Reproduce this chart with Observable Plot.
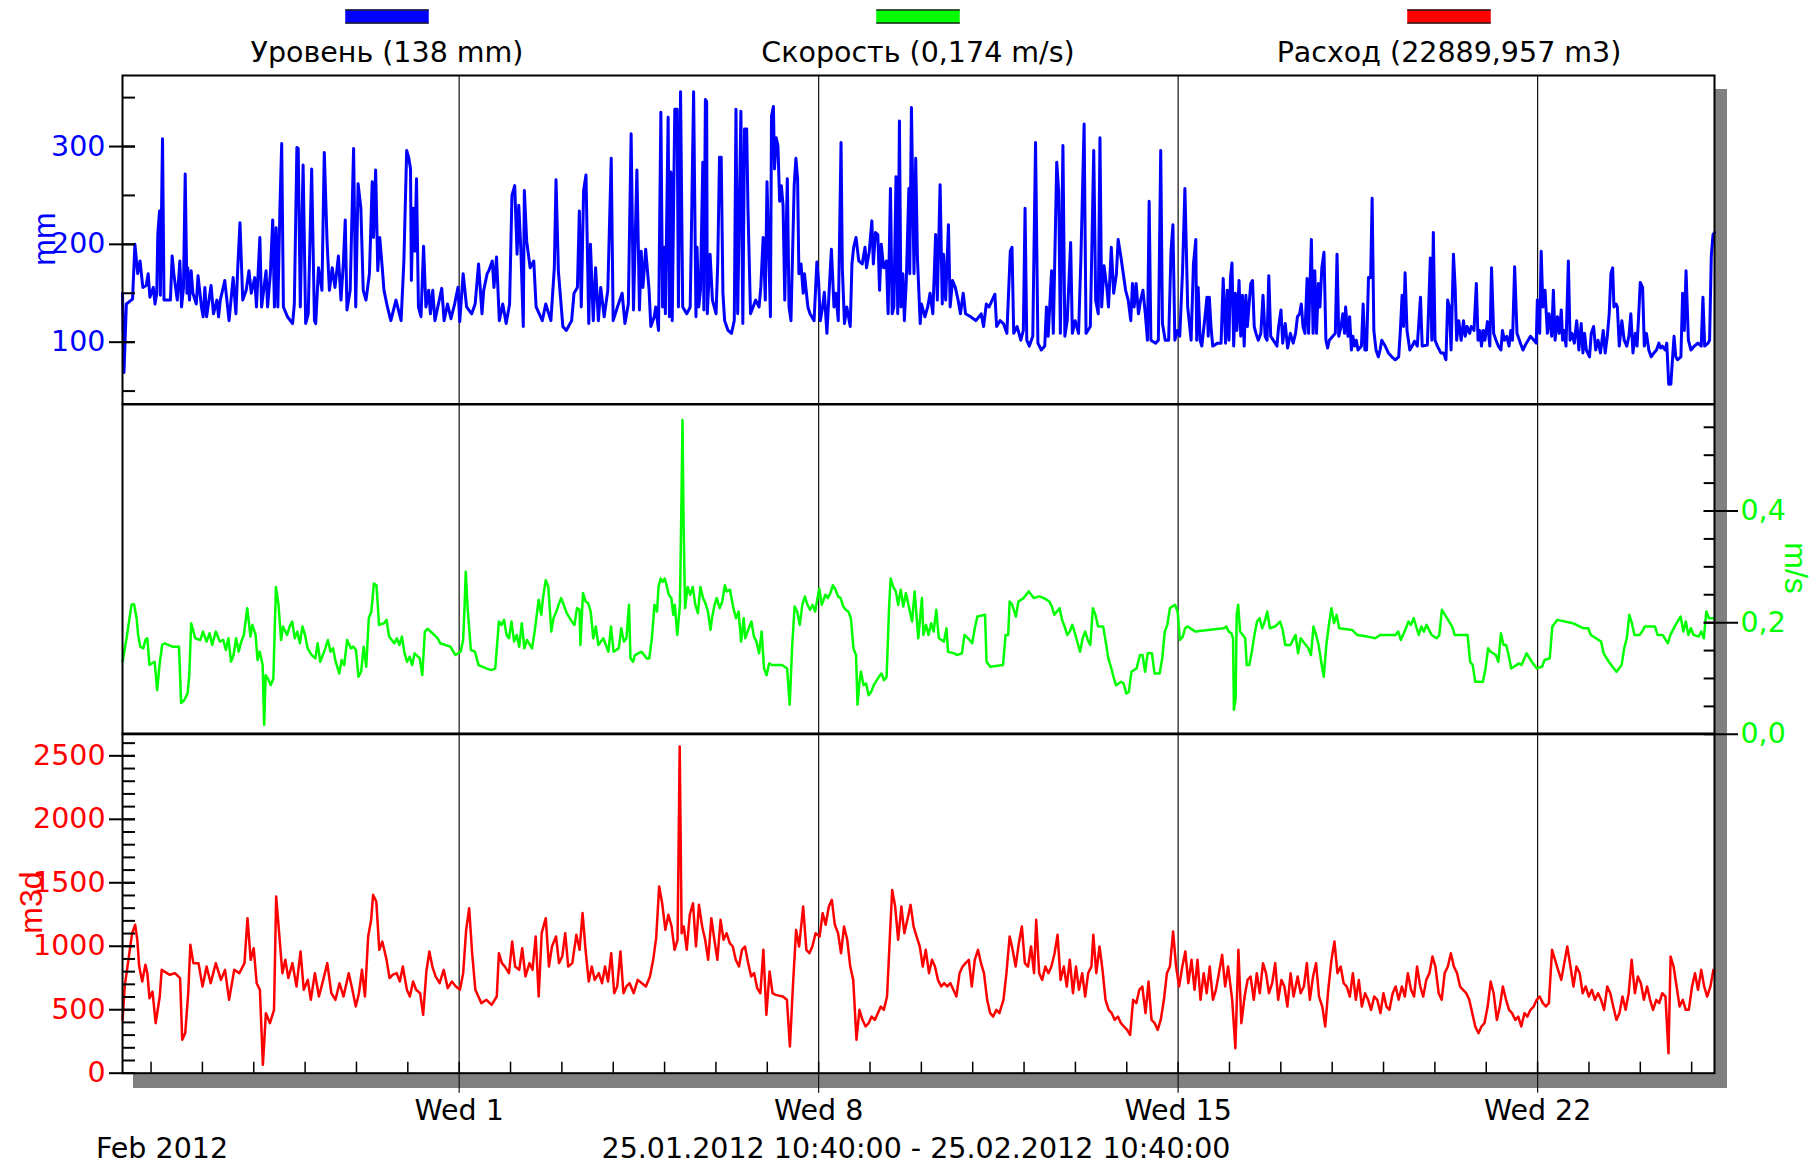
<!DOCTYPE html>
<html><head><meta charset="utf-8">
<script src="https://cdn.jsdelivr.net/npm/d3@7"></script>
<script src="https://cdn.jsdelivr.net/npm/@observablehq/plot@0.6"></script>
<style>
html,body{margin:0;padding:0;background:#fff;}
#chart{position:relative;width:1818px;height:1167px;overflow:hidden;background:#fff;}
#chart svg{position:absolute;left:0;}
</style></head><body><div id="chart"></div><script>
// ---------- data (hours since 25.01.2012 10:40, value) ----------
const legendNames = ["Уровень (138 mm)", "Скорость (0,174 m/s)", "Расход (22889,957 m3)"];
const seriesColors = ["#0000ff", "#00ff00", "#ff0000"];
const axisTitles = ["mm", "m/s", "m3d"];
const wedDays = [1, 8, 15, 22];
const wedLabels = ["Wed 1", "Wed 8", "Wed 15", "Wed 22"];
const levelTicksMajor = [100, 200, 300];
const speedTicksMajor = [0, 0.2, 0.4];
const flowTicksMajor = [0, 500, 1000, 1500, 2000, 2500];
const captionLeft = "Feb 2012";
const captionRange = "25.01.2012 10:40:00 - 25.02.2012 10:40:00";

const levelSeries = [[0,150],[0.7,69],[1.8,139],[4.7,144],[5.8,200],[7.1,170],[8.2,183],[9.5,156],[11.1,158],[12,170],[12.8,146],[14.4,156],[15.2,139],[16,150],[16.5,210],[17.3,234],[17.7,148],[18.7,308],[19.4,143],[22.4,143],[23.2,188],[24,170],[24.8,156],[25.6,143],[26.8,183],[27.6,136],[28.5,156],[29.3,272],[30.1,150],[30.5,176],[31.3,143],[32.1,173],[32.9,150],[34.5,139],[35.3,168],[36.9,136],[37.7,126],[38.5,156],[39.3,126],[41.4,158],[42.5,129],[44.1,143],[44.9,126],[45.7,143],[47.8,163],[49.8,122],[51.7,166],[53,129],[53.8,173],[54.9,222],[56.2,143],[57.8,153],[59.1,173],[60.2,150],[61.8,166],[62.6,136],[64.2,207],[65,136],[67.1,173],[67.8,136],[69.1,170],[70.2,225],[71,136],[71.8,217],[72.6,136],[73.6,240],[74.4,303],[75.2,136],[77.1,126],[79.5,119],[80.3,139],[81.5,299],[82.1,298],[83.1,136],[84.4,281],[85.6,119],[86.8,129],[88.4,277],[89.7,122],[90.3,119],[91.6,176],[93.2,153],[94.3,294],[95.6,203],[96.7,153],[98,176],[99.3,156],[100.9,188],[102.1,143],[103.2,180],[104.1,225],[104.9,133],[106.4,153],[108,298],[109,136],[110.1,262],[111.4,237],[112.5,153],[113.8,143],[115.4,170],[116.7,264],[117.3,207],[118.3,276],[119.3,173],[120.2,207],[121.4,176],[122.2,153],[123.8,136],[125.4,122],[127.8,143],[130.2,122],[131.5,183],[132.8,296],[133.8,288],[134.6,277],[135,163],[135.8,237],[136.6,193],[137.4,267],[138.3,136],[139.5,126],[140.7,198],[141.8,136],[143.1,153],[143.9,129],[145,153],[146,122],[149.2,155],[150.3,122],[151.9,139],[153.5,124],[155.2,139],[156.8,156],[157.6,121],[159.2,170],[160.8,136],[163.2,129],[164.8,139],[166.4,180],[168,129],[168.8,153],[170.4,170],[171.2,173],[172.8,183],[173.6,156],[174.8,187],[176.1,122],[177.7,139],[179.3,119],[180.9,139],[182,250],[183.3,260],[184.4,190],[185.2,240],[186.2,193],[187.3,116],[187.8,255],[188.9,203],[190.5,176],[192.2,183],[193.3,136],[196.2,122],[197.8,139],[200.2,122],[201.8,176],[202.6,266],[203.7,173],[205.8,116],[207.4,112],[209.9,122],[211,150],[212.6,156],[213.5,234],[214.4,136],[215.5,255],[216.6,271],[217.9,119],[218.7,200],[220,122],[221.1,176],[222.4,122],[223.5,156],[225.1,126],[226.8,153],[228.4,288],[229.3,122],[231.3,136],[233.5,150],[234.8,119],[236.4,139],[237.7,313],[238.8,133],[240.4,276],[241.6,133],[242.4,193],[243.2,156],[244.5,195],[246.1,153],[246.9,116],[248.5,126],
[249.2,136],[250.5,112],[251.6,335],[252.4,136],[253.1,197],[253.7,129],[255,330],[255.6,126],[256.3,274],[256.9,122],[258.1,338],[259.2,338],[259.8,136],[260.8,356],[261.8,136],[263.7,129],[265.3,136],[265.8,202],[266.9,356],[268,126],[268.5,197],[269.3,136],[270.1,153],[271.2,284],[271.7,133],[272.4,348],[273,346],[273.3,129],[274.6,190],[275.7,143],[277.4,129],[278.2,183],[279,289],[279.8,289],[280.6,150],[281.4,122],[283,112],[284.6,109],[285.9,122],[286.7,338],[287.5,129],[289,336],[289.9,119],[290.7,318],[291.7,318],[292.3,237],[293.5,129],[294.7,136],[295.9,143],[297.5,136],[298.3,156],[299.4,207],[300.4,143],[301.2,264],[302.8,126],[303.3,331],[304.2,341],[304.7,277],[305.5,309],[306.3,301],[307.1,244],[307.9,260],[308.7,240],[309.5,143],[310.7,267],[311.5,136],[312.4,122],[313.9,260],[314.7,288],[315.5,267],[316.1,170],[317.1,180],[318.1,150],[318.7,170],[319.5,153],[320.3,136],[321.3,129],[323.2,122],[324.5,182],[325.3,163],[326.1,122],[327.2,136],[328,151],[329.2,109],[330.5,163],[331.3,195],[332.5,136],[333.4,150],[334.5,122],[335.8,304],[336.4,176],[337.4,119],[338.5,136],[340.1,116],[340.9,180],[341.7,197],[342.8,207],[344.1,183],[345.7,180],[347,197],[347.7,176],[349,193],[350.2,224],[350.9,180],[351.9,212],[353,210],[353.8,153],[354.6,200],[355.7,176],[357,183],[357.8,129],[358.9,257],[359.7,129],[360.5,136],[361.5,269],[362.3,129],[363.1,326],[363.8,136],[364.7,170],[365.4,122],[366.3,163],[367.5,257],[367.9,170],[368.7,340],[369.9,170],[370.7,288],[371.5,186],[372.8,119],[373.4,139],[375,126],[376.3,136],[377.4,150],[378.7,129],[380,210],[380.8,143],[382.1,261],[383.1,139],[383.7,190],[384.7,143],[386,220],[386.8,136],[387.9,163],[389.2,156],[390.5,143],[391.6,129],[392.9,150],[394,129],[396.4,126],[398.8,122],[401.3,129],[402.4,116],[403.7,139],[405,136],[407.7,149],[408.5,116],[410.1,122],[411.7,119],[413.3,109],[414.9,193],[415.7,197],[416.5,109],[418.1,116],[419.8,102],[421,112],[421.8,237],[422.6,102],[423.8,96],[425.4,106],[426.7,304],[427.8,99],[429.4,92],[431,96],[431.8,136],[432.6,106],[434.2,173],[435,109],[436.6,284],[437.5,254],[438.3,109],[439.5,301],[440.4,106],[441.5,122],[443.1,202],[443.9,109],[445.2,122],[446.8,109],[447.9,186],[449.4,323],[450.3,109],[452.3,116],[453.9,296],[454.8,143],[456,129],[456.8,309],[457.6,136],[458.7,178],[460,156],[460.8,136],[462.1,197],[463.2,150],[464.5,170],[465.3,205],[466.4,190],[467.7,170],[468.8,153],[470,143],[471.2,122],[472,160],[472.8,136],[473.7,160],[474.8,129],[475.8,143],[476.9,153],[478,129],[479,102],[479.8,244],[480.6,102],[482.8,99],[484.1,102],[485.2,296],[486,119],[487.3,102],[488.9,102],[490,193],[490.9,220],[491.8,102],[493,112],[494.1,106],[495.4,173],[496.5,257],[497.8,136],[499.4,102],[500.5,180],
[501.6,205],[502,102],[502.7,156],[503.6,102],[504.4,96],[506,128],[506.8,146],[507.4,106],[507.9,146],[508.7,116],[509.5,96],[511.8,99],[513.4,99],[514.4,165],[515.5,99],[516.3,153],[517.1,102],[517.8,166],[518.5,181],[519.3,96],[520.1,150],[520.8,112],[521.8,163],[522.6,106],[523.4,148],[524.2,96],[525,148],[525.7,116],[526.5,139],[527.3,160],[528.1,163],[528.9,116],[529.7,109],[530.8,102],[532,109],[533,148],[534,106],[534.9,102],[535.7,168],[536.6,106],[538.7,99],[539.5,96],[540.3,116],[541.4,133],[542.2,99],[543.4,119],[544.5,94],[545.8,109],[547.1,99],[548.2,109],[549.1,126],[550.1,129],[550.9,139],[551.7,116],[552.6,109],[553.6,165],[554.3,109],[555.6,205],[556.4,109],[557.2,173],[558,109],[558.9,160],[559.6,136],[560.5,176],[561.5,192],[562.4,102],[563.2,94],[564,102],[565.6,106],[566.8,109],[567.6,190],[568.4,106],[569.5,116],[570.3,129],[571.1,109],[571.6,136],[572.7,106],[573.5,126],[574.3,92],[575,106],[575.8,96],[576.6,102],[577.4,92],[579,96],[579.8,139],[580.6,92],[581.4,92],[582.3,166],[583.3,166],[584,247],[584.8,112],[585.8,92],[586.9,85],[587.7,92],[588.5,102],[590.1,96],[591.6,89],[593.2,85],[594.8,82],[596.4,85],[597.2,112],[598,148],[598.7,116],[599.4,171],[600.3,112],[601.6,92],[602.7,96],[603.8,101],[605.1,96],[606.6,146],[607.4,96],[609.8,97],[611.2,186],[611.9,102],[612.6,212],[613.4,102],[614.5,96],[616.1,89],[617.4,89],[618.5,82],[619.3,143],[620.1,136],[620.9,92],[622,190],[622.8,156],[623.5,102],[624.5,122],[625.6,102],[626.7,122],[627.5,106],[628.4,116],[629.6,109],[630.3,116],[631.6,112],[632.7,160],[633.5,102],[634.3,112],[635.1,96],[635.9,112],[636.7,102],[637.9,121],[639,96],[639.8,176],[640.8,109],[641.9,102],[643,96],[644.2,92],[644.9,112],[645.8,102],[646.9,106],[648,96],[648.8,112],[649.6,102],[650.6,177],[651.7,109],[653.3,99],[654.5,92],[655.6,97],[658,106],[659.6,102],[660.7,99],[661.2,143],[662.3,109],[663,193],[663.8,136],[664.8,153],[665.9,109],[666.7,129],[667.9,106],[668.7,153],[669.5,102],[670.6,126],[671.4,109],[672.4,133],[673,102],[673.8,112],[674.6,96],[675.7,183],[676.5,102],[677.4,109],[678.5,99],[679.6,122],[680.6,92],[681.7,119],[682.5,89],[683.3,109],[684.1,92],[685.6,85],[686.4,109],[687.5,116],[688.5,92],[689.6,102],[690.7,89],[692,112],[692.9,89],[693.9,106],[694.8,129],[695.6,170],[696.4,176],[697,136],[698,139],[698.6,136],[699.5,96],[700.7,122],[701.8,102],[703,96],[704,106],[704.9,129],[705.9,89],[707,109],[707.8,96],[708.6,129],[709.3,161],[710.4,156],[711.2,96],[712.2,109],[713.3,92],[714.4,85],[715.7,89],[716.9,92],[718,99],[718.8,94],[719.6,96],[720.9,92],[721.7,99],[722.6,57],[723.6,57],[724.4,84],[725.1,106],[725.9,85],[726.7,82],[728.3,85],[729.1,150],[729.9,112],[730.7,173],[731.8,102],[733,92],[734.6,96],[736.2,99],[737.8,96],[738.6,146],[739.4,96],[741,99],[741.7,102],[742.5,188],[743.3,210],[744,212]];

const speedSeries = [[0,0.130],[1.9,0.172],[4.2,0.232],[5.4,0.233],[6.6,0.208],[7.3,0.178],[8.3,0.157],[9.7,0.154],[10.7,0.169],[11.6,0.172],[12.6,0.124],[15,0.130],[16.2,0.079],[17.3,0.124],[18.5,0.160],[19.7,0.163],[23.3,0.157],[26.4,0.157],[27.4,0.056],[28.8,0.061],[30.4,0.073],[31.2,0.106],[32.1,0.199],[34,0.172],[36.4,0.169],[37.6,0.184],[39.3,0.166],[40.7,0.181],[41.9,0.160],[43.6,0.184],[45.5,0.166],[47.1,0.169],[48.3,0.151],[49.5,0.172],[50.7,0.130],[51.9,0.142],[53.1,0.172],[54.3,0.148],[55.5,0.166],[56.7,0.178],[58.3,0.226],[59.8,0.175],[60.7,0.196],[62.2,0.178],[63.1,0.133],[64.1,0.148],[65.5,0.124],[66.2,0.017],[66.9,0.106],[67.9,0.100],[69.3,0.088],[70.5,0.100],[71.7,0.264],[72.9,0.232],[74.1,0.169],[75,0.193],[76.9,0.178],[78.1,0.193],[79.3,0.202],[80.5,0.172],[81.7,0.184],[82.9,0.163],[84.1,0.193],[85.3,0.178],[86.5,0.154],[88.4,0.142],[90.1,0.136],[91.2,0.163],[92.4,0.130],[94.8,0.154],[96,0.169],[97.2,0.148],[98.4,0.154],[99.6,0.130],[101.3,0.109],[102.4,0.133],[103.6,0.124],[105,0.169],[106.7,0.154],[107.9,0.157],[109.1,0.151],[110.3,0.103],[111.5,0.112],[112.7,0.157],[113.9,0.121],[115.1,0.208],[116.3,0.220],[117.5,0.270],[118.7,0.267],[119.9,0.196],[122.2,0.199],[123.4,0.205],[124.6,0.175],[127,0.163],[128.2,0.172],[129.4,0.160],[130.6,0.175],[131.8,0.145],[133,0.130],[134.2,0.139],[135.4,0.124],[136.5,0.145],[138.9,0.136],[140.1,0.106],[141.3,0.184],[142.5,0.189],[144.9,0.181],[147.3,0.172],[148.5,0.163],[153.2,0.157],[155.6,0.142],[158,0.148],[159.2,0.169],[159.9,0.232],[160.4,0.291],[161.3,0.226],[162.8,0.151],[164.7,0.148],[166.4,0.124],[170,0.118],[172.3,0.115],[174.2,0.118],[175.9,0.202],[177.1,0.196],[178.3,0.205],[179.5,0.178],[180.6,0.172],[181.8,0.202],[183,0.166],[184.2,0.178],[185.4,0.157],[186.6,0.199],[187.8,0.154],[189,0.169],[191.4,0.154],[192.6,0.184],[193.8,0.220],[194.5,0.241],[195.7,0.214],[196.6,0.247],[197.8,0.276],[199,0.264],[200.4,0.184],[201.4,0.208],[202.8,0.220],[203.8,0.232],[205,0.244],[206.2,0.232],[207.6,0.217],[210,0.202],[211.2,0.196],[212.4,0.226],[213.6,0.223],[214,0.160],[215.2,0.253],[216.4,0.238],[217.6,0.235],[218.8,0.220],[220,0.172],[221.2,0.193],[222.4,0.160],[224.7,0.172],[225.9,0.160],[227.1,0.148],[228.3,0.193],[229.5,0.148],[231.9,0.154],[233.1,0.190],[234.3,0.166],[235.5,0.172],[236.7,0.232],[237.4,0.136],[238.6,0.130],[239.5,0.142],[242.6,0.148],[245,0.136],[246.2,0.136],[247.4,0.172],[248.6,0.232],[249.8,0.220],[250.5,0.264],[251.5,0.279],[252.4,0.273],[253.4,0.279],[254.3,0.267],[255.3,0.250],[256.5,0.244],[257.4,0.214],[258.1,0.232],[259.3,0.178],[260.5,0.232],[261.2,0.411],[261.7,0.563],[262.2,0.381],[262.9,0.226],[264.1,0.264],[265.3,0.250],[266.5,0.264],[267.7,0.232],[268.9,0.217],[270.1,0.264],[271.3,0.244],[272.4,0.235],[273.6,0.220],[274.8,0.187],[275.5,0.208],[276.7,0.232],[277.7,0.244],[279.1,0.226],[280.3,0.238],[281.5,0.267],[282.4,0.256],[283.9,0.259],[285.5,0.226],[286.7,0.208],[287.9,0.220],[289.1,0.166],[290.3,0.208],[291,0.172],[292.7,0.190],[293.9,0.202],[295.1,0.175],[296.3,0.166],[297.5,0.145],[298.7,0.184],[299.8,0.118],[301,0.106],[302.2,0.127],[303.4,0.124],[308.2,0.124],[310.6,0.118],[311.8,0.053],[313,0.160],[314.1,0.229],[315.3,0.220],[316.5,0.196],[317.7,0.232],[318.9,0.247],[320.1,0.232],[321.3,0.223],[322.5,0.232],[323.7,0.220],[325.6,0.261],[326.8,0.232],[328.5,0.250],[329.6,0.244],[330.8,0.253],[332,0.267],[333.2,0.259],[334.4,0.247],[335.6,0.244],[336.8,0.229],[338,0.223],[339.2,0.220],[340.4,0.208],[341.6,0.154],[342.8,0.142],[343.5,0.053],[344.4,0.094],[345.1,0.112],[346.3,0.088],[347.5,0.091],[348.7,0.070],[349.9,0.076],[351.1,0.088],[353.5,0.103],[354.7,0.109],[355.9,0.097],[357.1,0.103],[358.3,0.232],[359,0.279],[360.2,0.264],[361.4,0.256],[362.5,0.232],[363.7,0.259],[364.9,0.229],[366.1,0.253],[367.3,0.232],[369,0.202],[370.2,0.256],
[371.9,0.172],[373.6,0.244],[374.3,0.178],[375.5,0.196],[376.7,0.178],[377.9,0.199],[379.1,0.184],[380.3,0.223],[381.5,0.172],[383.9,0.166],[385.1,0.190],[385.8,0.148],[388.7,0.145],[389.9,0.142],[392.3,0.145],[393.5,0.178],[395.9,0.169],[397.1,0.163],[398.3,0.190],[399.5,0.211],[403.1,0.214],[403.8,0.130],[405.5,0.121],[411.5,0.124],[412.7,0.178],[413.9,0.178],[414.6,0.238],[415.8,0.232],[417.5,0.211],[418.7,0.238],[421.1,0.244],[423.5,0.256],[425.9,0.244],[428.3,0.247],[430.7,0.244],[433.1,0.238],[434.3,0.229],[435.5,0.214],[437.9,0.226],[439.1,0.205],[440.3,0.193],[441.5,0.178],[442.7,0.184],[443.9,0.196],[445.1,0.181],[447.5,0.148],[448.7,0.172],[449.9,0.184],[451.1,0.169],[452.3,0.160],[453.5,0.226],[454.7,0.214],[455.9,0.193],[458.3,0.193],[459.5,0.166],[460.7,0.136],[461.9,0.121],[463.1,0.103],[464.3,0.088],[466.7,0.094],[467.9,0.091],[469.1,0.073],[470.3,0.076],[471.5,0.112],[473.9,0.118],[475.5,0.142],[476.7,0.142],[477.9,0.112],[479.1,0.145],[481.1,0.145],[482.3,0.109],[484.7,0.109],[485.9,0.136],[487.1,0.184],[488.3,0.196],[489.5,0.226],[491.9,0.232],[493.1,0.220],[494.2,0.169],[495.5,0.175],[496.6,0.190],[497.8,0.193],[501.4,0.184],[514.6,0.190],[515.8,0.193],[517,0.184],[518.2,0.181],[519,0.172],[519.4,0.044],[520.2,0.064],[520.7,0.214],[521.4,0.232],[522.3,0.184],[524.7,0.172],[525.4,0.124],[526.6,0.124],[527.8,0.148],[529,0.178],[530.2,0.202],[531.4,0.208],[532.6,0.190],[533.8,0.202],[535,0.220],[536.2,0.190],[538.6,0.193],[541,0.202],[542.2,0.187],[543.4,0.160],[545.8,0.160],[548.2,0.178],[549.4,0.145],[550.6,0.172],[553,0.160],[554.2,0.154],[555.4,0.142],[556.6,0.193],[557.8,0.178],[559,0.160],[560.2,0.130],[561.4,0.103],[562.6,0.160],[563.8,0.196],[565,0.226],[566.2,0.199],[567.4,0.214],[568.6,0.190],[574.6,0.187],[577,0.178],[581.8,0.175],[585.4,0.172],[587.8,0.178],[595,0.178],[596.2,0.184],[597.4,0.169],[599.8,0.190],[601,0.202],[602.2,0.196],[603.4,0.208],[604.6,0.193],[605.8,0.178],[607,0.193],[608.2,0.184],[609.4,0.196],[611.8,0.178],[614.2,0.172],[615.4,0.178],[616.6,0.223],[619,0.208],[621.4,0.193],[622.6,0.178],[625,0.178],[628.6,0.178],[629.8,0.130],[631,0.124],[632.2,0.094],[635.8,0.094],[637,0.118],[638.2,0.154],[639.4,0.148],[641.8,0.142],[643,0.130],[644.2,0.181],[645.4,0.160],[646.6,0.160],[647.8,0.142],[649,0.118],[652.6,0.127],[653.8,0.124],[656.2,0.145],[658.6,0.130],[661,0.118],[663.4,0.121],[664.6,0.133],[667,0.136],[668.2,0.193],[670.6,0.205],[677.8,0.199],[682.6,0.190],[685,0.190],[686.2,0.178],[688.6,0.172],[691,0.166],[692.2,0.145],[694.6,0.130],[697,0.118],[698.2,0.112],[700.6,0.124],[701.8,0.154],[703,0.172],[704.2,0.214],[705.4,0.199],[706.6,0.178],[709,0.178],[710.2,0.184],[711.4,0.193],[716.2,0.193],[717.4,0.178],[719.8,0.178],[722.2,0.163],[723.4,0.178],[725.8,0.196],[728.2,0.211],[729.4,0.184],[730.6,0.202],[731.8,0.178],[733,0.190],[734.2,0.178],[736.6,0.175],[737.8,0.184],[739,0.172],[740.2,0.220],[741.4,0.208],[744,0.208]];

const flowSeries = [[0,420],[1.1,696],[2.1,814],[4.5,1103],[5.9,1169],[6.9,1051],[7.8,840],[9.2,722],[10.7,854],[11.6,788],[12.6,591],[14,643],[15.5,394],[17.4,604],[18.3,814],[22.1,775],[24.5,788],[26.9,749],[27.9,263],[29.3,315],[30.7,630],[31.7,1011],[33.1,867],[35.5,867],[37.4,683],[39.3,840],[41.2,709],[43.6,867],[46,735],[47.9,814],[49.8,578],[52.2,814],[54.6,788],[57,867],[58.4,1221],[59.9,893],[61.3,985],[62.7,709],[64.2,657],[65.6,66],[67,473],[68.9,394],[70.8,499],[71.8,1392],[73.2,1103],[74.7,788],[76.1,893],[77.5,749],[79.4,867],[81.3,683],[83.2,959],[84.7,657],[86.6,735],[88,578],[89.9,788],[91.8,604],[93.8,735],[95.7,867],[97.6,630],[99.5,578],[101.4,709],[103.3,604],[105.7,788],[107.1,683],[109,525],[110.5,630],[111.9,814],[113.3,604],[114.8,1077],[116.2,1208],[117.1,1405],[118.6,1353],[120,972],[121.4,1037],[123.4,893],[124.8,749],[126.2,775],[128.1,788],[129.6,722],[131,840],[132.9,657],[134.3,604],[135.8,722],[137.2,657],[139.1,630],[140.5,460],[142,801],[143.4,959],[144.8,840],[146.3,762],[148.2,709],[150.1,814],[152,670],[153.9,722],[155.8,683],[157.7,657],[159.2,788],[160.6,1129],[162,1300],[163.4,945],[164.9,657],[166.3,604],[167.7,552],[170.1,578],[172.5,538],[174.9,604],[175.9,945],[177.3,867],[178.7,840],[180.6,788],[182.1,1037],[183.5,840],[185.4,814],[186.8,985],[188.3,762],[190.2,867],[191.6,814],[193.1,1077],[194.5,604],[195.9,1103],[197.8,1221],[199.3,840],[200.7,998],[202.6,1077],[204,867],[205.5,919],[206.9,1103],[208.3,840],[210.2,867],[212.1,1090],[213.6,972],[215,1261],[216.4,972],[217.9,722],[219.3,840],[220.7,735],[222.6,788],[224.1,709],[225.5,840],[226.9,722],[228.4,945],[229.8,630],[231.2,683],[232.7,959],[234.1,630],[235.5,683],[237,709],[238.9,630],[240.8,735],[242.7,709],[244.6,683],[246.5,762],[248,893],[249.4,1064],[250.8,1471],[252.2,1339],[253.7,1129],[255.1,1248],[256.6,1156],[258,972],[259.4,1051],[260.4,2574],[261.3,1103],[262.3,1156],[263.7,972],[265.1,1248],[266.6,1339],[268,998],[269.4,1326],[270.9,1156],[272.3,1051],[273.7,893],[275.2,1221],[276.6,1051],[278,893],[279.5,1208],[280.9,1051],[282.3,1103],[283.8,1024],[285.2,998],[286.6,893],[288.1,840],[289.5,972],[290.9,998],[292.4,867],[293.8,762],[295.2,788],[296.6,670],[298.1,630],[299.5,972],[300.9,460],[302.4,801],[303.8,630],[305.2,617],[308.6,604],[310.5,578],[311.9,210],[313.3,683],[314.8,1129],[316.2,998],[318.1,1313],[319.6,972],[321,945],[322.4,998],[323.9,1103],[325.8,1077],[327.2,1261],[328.6,1169],[330.1,1313],[331.5,1366],[332.9,1169],[334.4,1103],[335.8,945],[337.2,1156],[338.7,1051],[340.1,840],[341.5,735],[343,263],[344.4,499],[345.8,420],[347.3,368],[348.7,394],[350.1,446],[351.6,420],[353,473],[354.4,525],[355.8,499],[357.3,604],[358.7,1103],[359.7,1444],[361.1,1313],[362.5,1051],[364,1313],[365.4,1103],[366.8,1208],[368.3,1326],[369.7,1156],[371.1,1077],[372.6,998],[374,840],[375.4,972],[376.9,788],[378.3,893],[379.7,840],[381.1,735],[382.6,683],[384,709],[385.4,683],[386.9,709],[388.3,657],[389.7,604],[391.2,788],[392.6,840],[394,867],[395.5,893],[396.9,683],[398.3,893],[399.8,972],[401.2,867],[402.6,788],[404.1,578],[405.5,473],[406.9,446],[408.4,499],[409.8,473],[411.7,578],[413.1,788],[414.6,1077],[416,972],[417.4,840],[418.9,1024],[420.3,1156],[421.7,867],[423.2,840],[424.6,998],[426,788],[427,1208],[428.4,788],[429.8,735],[431.3,840],[432.7,788],[434.1,840],[435.6,945],[437,1090],[438.4,735],[439.9,840],[441.3,683],[442.7,893],[444.2,630],[445.6,840],[447,657],[448.5,788],[449.9,604],[451.3,788],[452.8,840],[453.7,1090],[455.1,788],[456.6,998],[458,814],[459.4,578],[460.9,499],[462.3,473],[463.7,420],[465.2,446],[466.6,394],[468,368],[469.5,341],[470.9,302],[472.3,578],[473.8,552],[475.2,657],[476.6,683],[478.1,473],[479.5,722],[480.9,420],[482.4,394],[483.8,341],[485.2,420],[486.7,578],[488.1,788],[489.5,840],[491,1116],[492.4,840],[493.8,683],[495.3,840],[496.7,959],[498.1,709],[499.6,893],[501,657],[502.4,893],[503.8,578],[505.3,788],[506.7,630],[508.1,840],[509.6,578],[511,657],[512.4,788],[513.9,932],[515.3,683],[516.7,840],[518.6,578],[520.1,197],[521.5,972],[522.9,394],[524.4,604],[525.8,735],[527.2,762],[528.7,578],[530.1,788],[531.5,630],[533,867],[534.4,788],[535.8,630],[537.3,709],[538.7,867],[540.1,578],[541.6,735],[543,683],[544.4,525],[545.9,788],[547.3,604],[549.2,762],[550.6,630],[552.1,683],[553.5,867],[554.9,578],[556.4,762],[557.8,867],[559.2,604],[560.7,525],[562.1,368],[563.5,657],[565,893],[566.4,1037],[567.8,788],[569.3,840],[570.7,709],[572.1,683],[573.6,604],[575,788],[576.4,578],[577.8,735],[579.2,525],[580.7,630],[582.1,578],[583.5,499],[585,604],[586.4,578],[587.9,473],[589.3,630],[590.7,525],[592.1,499],[593.6,630],[595,683],[596.4,578],[597.9,683],[599.3,604],[600.7,788],[602.2,657],[603.6,604],[605,840],[606.5,683],[607.9,604],[609.3,735],[610.8,788],[612.2,919],[613.6,840],[615.1,630],[616.5,578],[617.9,788],[619.4,840],[620.8,945],[622.2,840],[623.7,788],[625.1,683],[626.5,657],[628,630],[629.4,578],[630.8,473],[632.2,368],[633.7,315],[635.1,368],[636.5,394],[638,525],[639.4,722],[640.8,630],[642.3,420],[643.7,525],[645.1,683],[646.6,578],[648,499],[649.4,473],[650.9,420],[652.3,446],[653.7,368],[655.2,473],[656.6,446],[658,499],[659.5,525],[660.9,578],[662.3,604],[663.8,552],[665.2,525],[666.6,552],[668.1,972],[669.5,893],[670.9,814],[672.4,735],[673.8,867],[675.2,998],[676.7,840],[678.1,683],[679.5,840],[681,788],[682.4,630],[683.8,683],[685.3,604],[686.7,657],[688.1,578],[689.6,630],[691,578],[692.4,499],[693.9,683],[695.3,630],[696.7,525],[698.2,420],[699.6,473],[701,604],[702.5,499],[703.9,630],[705.3,893],[706.8,630],[708.2,762],[709.6,709],[711,578],[712.5,683],[713.9,578],[715.3,499],[716.8,578],[718.2,552],[719.6,630],[721.1,604],[722.5,158],[723.5,919],[724.9,840],[726.3,683],[727.7,525],[729.2,578],[730.6,499],[732,499],[733.5,683],[734.9,788],[736.3,657],[737.8,814],[739.2,683],[740.6,604],[742.1,683],[743.5,814],[744,800]];

// ---------- layout ----------
const T0 = new Date(2012, 0, 25, 10, 40).getTime();
const SPAN_H = 744;
const toDate = h => new Date(T0 + h * 3600000);
const wedDates = wedDays.map(d => new Date(2012, 1, d));
const dayTicks = d3.timeDay.range(toDate(0), toDate(SPAN_H));
const FONT = "'DejaVu Sans', Verdana, sans-serif";
const TFONT = "'Liberation Sans', Arial, sans-serif";
const FS = 28.5;
const XL = 122, XR = 1714, W = 1818;

const chart = document.getElementById("chart");
function box(l, t, w, h, bg) {
  const d = document.createElement("div");
  Object.assign(d.style, {position: "absolute", left: l + "px", top: t + "px", width: w + "px", height: h + "px", background: bg});
  chart.appendChild(d);
}
box(133, 89, 1594, 999, "#808080");   // drop shadow
box(XL, 75, XR - XL, 998, "#ffffff");  // plot area

function panel(top, bottom, mb, yDomain, marks) {
  const mt = 12;
  const svg = Plot.plot({
    width: W, height: bottom - top + mt + mb,
    marginLeft: XL, marginRight: W - XR, marginTop: mt, marginBottom: mb,
    x: {type: "time", domain: [toDate(0), toDate(SPAN_H)], axis: null},
    y: {domain: yDomain, axis: null},
    style: {background: "transparent", overflow: "visible", fontFamily: FONT, fontSize: FS + "px", maxWidth: "none", color: "#000"},
    marks: [
      Plot.ruleX(wedDates, {stroke: "#111", strokeWidth: 1.2}),
      ...marks,
      Plot.frame({stroke: "#000", strokeWidth: 2})
    ]
  });
  svg.style.top = (top - mt) + "px";
  chart.appendChild(svg);
}

const pt = () => ({x: d => toDate(d[0]), y: d => d[1]});
const plain = d => String(d);

// Level panel
panel(75, 403.5, 12, [36.8, 372.6], [
  Plot.line(levelSeries, {...pt(), stroke: seriesColors[0], strokeWidth: 3}),
  Plot.axisY(d3.range(50, 351, 50), {anchor: "left", tickSize: 13, dx: 13, tickFormat: () => "", stroke: "#000", strokeWidth: 2, label: null}),
  Plot.axisY(levelTicksMajor, {anchor: "left", tickSize: 26, dx: 13, tickPadding: 4, stroke: "#000", strokeWidth: 2, fill: seriesColors[0], tickFormat: plain, label: null})
]);

// Speed panel
panel(403.5, 733.3, 12, [0, 0.5908], [
  Plot.line(speedSeries, {...pt(), stroke: seriesColors[1], strokeWidth: 2.5}),
  Plot.axisY(d3.range(1, 12).map(k => k * 0.05), {anchor: "right", tickSize: 11.3, dx: -11.3, tickFormat: () => "", stroke: "#000", strokeWidth: 2, label: null}),
  Plot.axisY(speedTicksMajor, {anchor: "right", tickSize: 34.3, dx: -11.3, tickPadding: 3, stroke: "#000", strokeWidth: 2, fill: seriesColors[1], tickFormat: d => d.toFixed(1).replace(".", ","), label: null})
]);

// Flow panel
panel(733.3, 1073, 70, [0, 2676], [
  Plot.line(flowSeries, {...pt(), stroke: seriesColors[2], strokeWidth: 2.5}),
  Plot.axisY(d3.range(100, 2700, 100), {anchor: "left", tickSize: 13, dx: 13, tickFormat: () => "", stroke: "#000", strokeWidth: 2, label: null}),
  Plot.axisY(flowTicksMajor, {anchor: "left", tickSize: 26, dx: 13, tickPadding: 4, stroke: "#000", strokeWidth: 2, fill: seriesColors[2], tickFormat: plain, label: null}),
  Plot.axisX(dayTicks, {anchor: "bottom", tickSize: 11, dy: -11, tickFormat: () => "", stroke: "#000", strokeWidth: 1.5, label: null}),
  Plot.axisX(wedDates, {anchor: "bottom", tickSize: 20, tickPadding: 7, stroke: "#111", strokeWidth: 1.2, fill: "#000",
    tickFormat: d => wedLabels[wedDates.findIndex(w => +w === +d)], label: null})
]);

// ---------- legend, axis titles, captions ----------
const ov = d3.create("svg").attr("width", W).attr("height", 1167)
  .style("position", "absolute").style("left", "0px").style("top", "0px").style("pointer-events", "none");
const legendCx = [387, 918, 1449];
legendNames.forEach((name, i) => {
  const cx = legendCx[i];
  ov.append("rect").attr("x", cx - 41.75).attr("y", 9.5).attr("width", 83.5).attr("height", 14).attr("fill", seriesColors[i]);
  ov.append("line").attr("x1", cx - 41.75).attr("x2", cx + 41.75).attr("y1", 10).attr("y2", 10).attr("stroke", "#222").attr("stroke-width", 1.5);
  ov.append("line").attr("x1", cx - 41.75).attr("x2", cx + 41.75).attr("y1", 23).attr("y2", 23).attr("stroke", "#222").attr("stroke-width", 1.5);
  ov.append("text").attr("x", cx).attr("y", 62).attr("text-anchor", "middle")
    .style("font-family", FONT).style("font-size", FS + "px").attr("fill", "#000").text(name);
});
const titlePos = [[55, 239, -90], [1785, 568, 90], [41.7, 902.5, -90]];
axisTitles.forEach((t, i) => {
  const [x, y, r] = titlePos[i];
  ov.append("text").attr("transform", `translate(${x},${y}) rotate(${r})`).attr("text-anchor", "middle")
    .style("font-family", TFONT).style("font-size", "32px").attr("fill", seriesColors[i]).text(t);
});
ov.append("text").attr("x", 96).attr("y", 1158).style("font-family", FONT).style("font-size", FS + "px").attr("fill", "#000").text(captionLeft);
ov.append("text").attr("x", 916).attr("y", 1158).attr("text-anchor", "middle").style("font-family", FONT).style("font-size", FS + "px").attr("fill", "#000").text(captionRange);
chart.appendChild(ov.node());
</script></body></html>
